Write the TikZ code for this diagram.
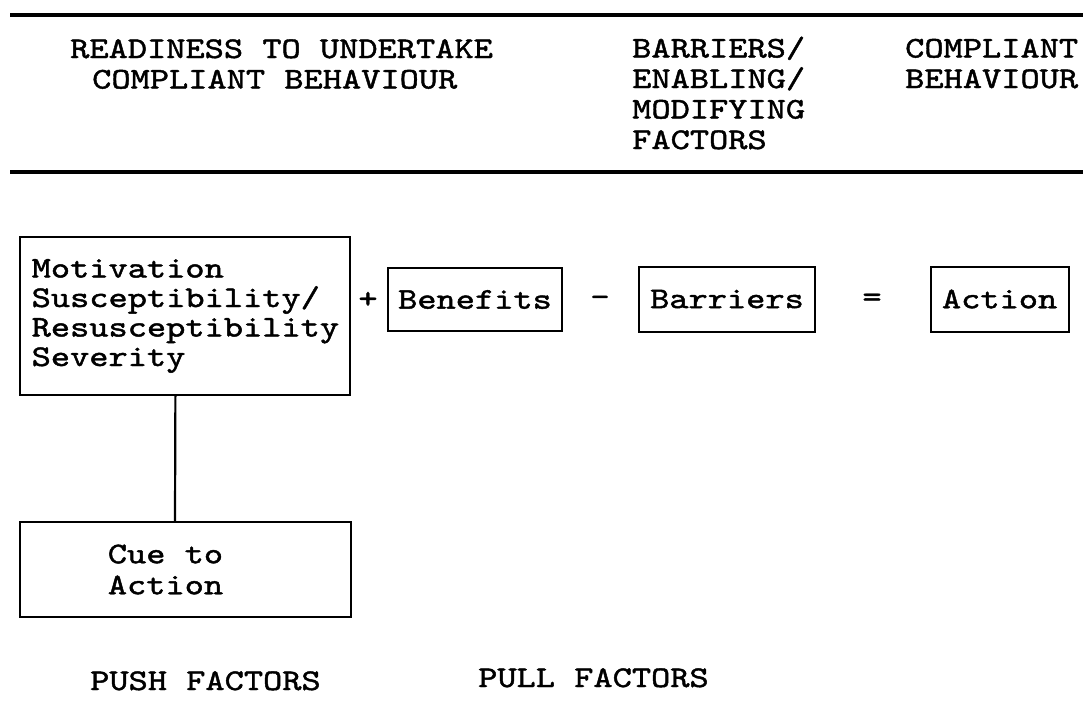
\documentclass[tikz,border=0pt]{standalone}
\usepackage{fontspec}
\setmonofont{lmmono10-regular}[Extension=.otf, FakeStretch=1.22, FakeBold=1.5]
\begin{document}
\begin{tikzpicture}[x=1pt,y=-1pt]
\tikzset{
  txt/.style={font=\ttfamily\fontsize{30}{30.5}\selectfont, inner sep=0pt, text=black},
  boxed/.style={draw=black, line width=2pt, txt},
  rulestyle/.style={draw=black, line width=3.2pt},
  link/.style={draw=black, line width=2.2pt}
}
\useasboundingbox[fill=white] (0,0) rectangle (1083,705);
% horizontal rules
\coordinate (r1a) at (10,15);
\coordinate (r1b) at (1083,15);
\coordinate (r2a) at (10,172);
\coordinate (r2b) at (1083,172);
\draw[rulestyle] (r1a) -- (r1b);
\draw[rulestyle] (r2a) -- (r2b);
% headers (base anchor = baseline of last line)
\node[txt, anchor=base west, align=left] (ready) at (70,88.5) {READINESS TO UNDERTAKE\\\hspace*{22pt}COMPLIANT BEHAVIOUR};
\node[txt, anchor=base west, align=left] (barr) at (632,149) {BARRIERS/\\ENABLING/\\MODIFYING\\FACTORS};
\node[txt, anchor=base west, align=left] (comp) at (905,88) {COMPLIANT\\BEHAVIOUR};
% boxes
\node[boxed, minimum width=330pt, minimum height=158pt, align=left,
      font=\ttfamily\fontsize{30}{29.5}\selectfont] (motiv) at (185.4,316)
      {Motivation\\Susceptibility/\\Resusceptibility\\Severity};
\node[txt] (plus) at (368,300) {+};
\node[boxed, minimum width=174pt, minimum height=63pt] (ben) at (475,299.5) {Benefits};
\node[txt] (minus) at (600,301) {-};
\node[boxed, minimum width=176pt, minimum height=65pt] (bar) at (727,299) {Barriers};
\node[txt] (eq) at (872,300) {=};
\node[boxed, minimum width=138pt, minimum height=65pt] (act) at (999.6,299) {Action};
\node[boxed, minimum width=331pt, minimum height=95pt, align=left,
      font=\ttfamily\fontsize{30}{31}\selectfont] (cue) at (185,569.5)
      {\hspace*{76.5pt}Cue to\hspace*{115.5pt}\\\hspace*{76.5pt}Action\hspace*{115.5pt}};
\draw[link] ([xshift=-10pt]motiv.south) -- ([xshift=-10pt]cue.north);
% footers
\node[txt, anchor=base west] (push) at (90,690) {PUSH FACTORS};
\node[txt, anchor=base west] (pull) at (478,687) {PULL FACTORS};
\end{tikzpicture}
\end{document}
